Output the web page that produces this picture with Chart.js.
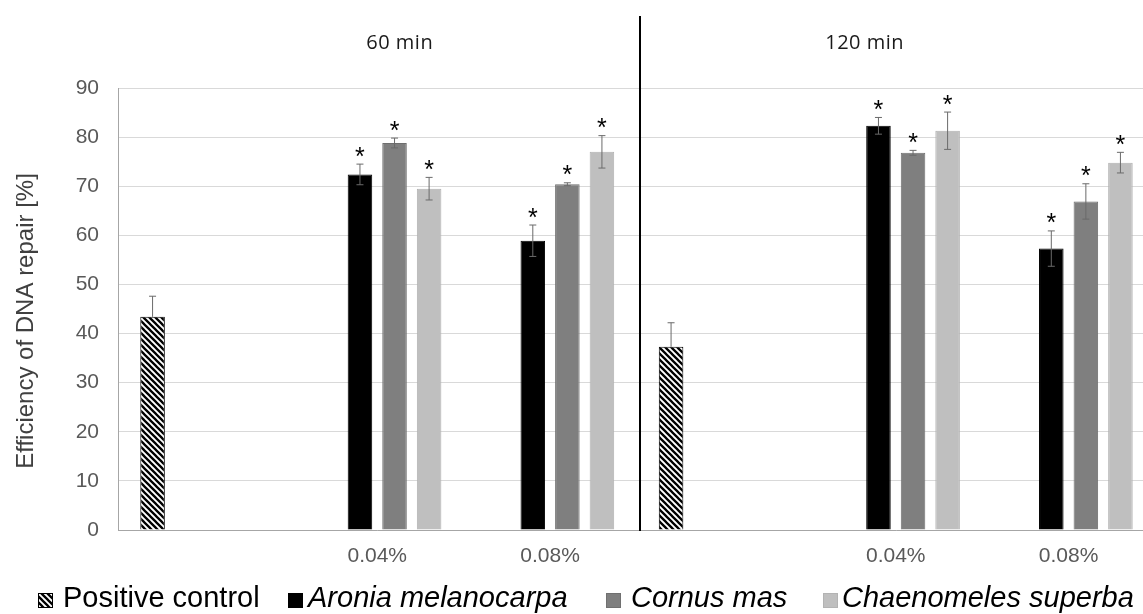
<!DOCTYPE html>
<html>
<head>
<meta charset="utf-8">
<script src="https://cdn.jsdelivr.net/npm/chart.js@4"></script>
<style>
  html, body { margin: 0; padding: 0; background: #ffffff; overflow: hidden; }
  #wrap { width: 1143px; height: 614px; overflow: hidden; position: relative; }
  #wrap canvas { position: absolute; left: 0; top: 0; }
</style>
</head>
<body>
<div id="wrap"><canvas id="c" width="1160" height="614"></canvas></div>
<script>
// ---- data ----
const categories = ['', '0.04%', '0.08%', '', '0.04%', '0.08%'];
const timeLabels = ['60 min', '120 min'];
const yTicks = [0, 10, 20, 30, 40, 50, 60, 70, 80, 90];
const seriesNames = ['Positive control', 'Aronia melanocarpa', 'Cornus mas', 'Chaenomeles superba'];

const positiveControl    = [43.4, null, null, 37.3, null, null];
const positiveControlErr = [4.2, null, null, 4.9, null, null];
const aronia             = [null, 72.4, 58.9, null, 82.3, 57.3];
const aroniaErr          = [null, 2.1, 3.2, null, 1.7, 3.6];
const cornus             = [null, 78.8, 70.4, null, 76.8, 66.9];
const cornusErr          = [null, 1.0, 0.3, null, 0.5, 3.6];
const chaenomeles        = [null, 69.5, 77.0, null, 81.3, 74.8];
const chaenomelesErr     = [null, 2.3, 3.3, null, 3.8, 2.1];
const significant        = [false, true, true, true]; // asterisk per series

// ---- hatch pattern ----
function makeHatch() {
  const t = document.createElement('canvas');
  t.width = 6; t.height = 6;
  const g = t.getContext('2d');
  g.fillStyle = '#ffffff'; g.fillRect(0, 0, 6, 6);
  g.strokeStyle = '#000000'; g.lineWidth = 2.3;
  g.beginPath();
  g.moveTo(-1, -1); g.lineTo(7, 7);
  g.moveTo(-1, 5); g.lineTo(1, 7);
  g.moveTo(5, -1); g.lineTo(7, 1);
  g.stroke();
  return t;
}
const ctx = document.getElementById('c').getContext('2d');
const hatch = ctx.createPattern(makeHatch(), 'repeat');

const errs = [positiveControlErr, aroniaErr, cornusErr, chaenomelesErr];
const FONT = '"Liberation Sans", Arial, sans-serif';

const extras = {
  id: 'extras',
  afterDatasetsDraw(chart) {
    const c = chart.ctx;
    const y = chart.scales.y;
    c.save();
    chart.data.datasets.forEach((ds, di) => {
      const meta = chart.getDatasetMeta(di);
      meta.data.forEach((bar, i) => {
        const v = ds.data[i];
        if (v == null) return;
        const e = errs[di][i];
        const yt = y.getPixelForValue(v + e);
        const yb = y.getPixelForValue(di === 0 ? v : v - e);
        c.strokeStyle = '#6a6a6a';
        c.lineWidth = 1;
        c.beginPath();
        c.moveTo(bar.x, yt); c.lineTo(bar.x, yb);
        c.moveTo(bar.x - 3.5, yt); c.lineTo(bar.x + 3.5, yt);
        if (di !== 0) { c.moveTo(bar.x - 3.5, yb); c.lineTo(bar.x + 3.5, yb); }
        c.stroke();
        if (significant[di]) {
          c.fillStyle = '#000000';
          c.font = '25px ' + FONT;
          c.textAlign = 'center';
          c.textBaseline = 'alphabetic';
          c.fillText('*', bar.x, yt + 0.5);
        }
      });
    });
    c.restore();
  },
  afterDraw(chart) {
    const c = chart.ctx;
    const x = chart.scales.x;
    const area = chart.chartArea;
    c.save();
    // divider
    c.strokeStyle = '#000000';
    c.lineWidth = 2;
    const xd = Math.round(x.getPixelForValue(2.52));
    c.beginPath(); c.moveTo(xd, 16); c.lineTo(xd, area.bottom + 1); c.stroke();
    // time labels
    c.fillStyle = '#1a1a1a';
    c.font = '20px "Open Sans", sans-serif';
    try { c.letterSpacing = '0.5px'; } catch (e) {}
    c.textAlign = 'center';
    c.textBaseline = 'middle';
    c.fillText(timeLabels[0], x.getPixelForValue(1.13), 43);
    c.fillText(timeLabels[1], x.getPixelForValue(3.82), 43);
    try { c.letterSpacing = '0px'; } catch (e) {}
    // y title
    c.save();
    c.translate(33, 321);
    c.rotate(-Math.PI / 2);
    c.fillStyle = '#404040';
    c.font = '24px ' + FONT;
    c.textAlign = 'center';
    c.textBaseline = 'alphabetic';
    c.fillText('Efficiency of DNA repair [%]', 0, 0);
    c.restore();
    // legend
    const items = [
      { box: 38, tx: 63, fill: hatch, stroke: '#000000', italic: false },
      { box: 288, tx: 308, fill: '#000000', stroke: '#000000', italic: true },
      { box: 606, tx: 631, fill: '#7f7f7f', stroke: '#707070', italic: true },
      { box: 823, tx: 842, fill: '#bfbfbf', stroke: '#b3b3b3', italic: true }
    ];
    c.textAlign = 'left';
    c.textBaseline = 'alphabetic';
    items.forEach((it, k) => {
      c.fillStyle = it.fill;
      c.fillRect(it.box, 593, 15, 15);
      c.strokeStyle = it.stroke; c.lineWidth = 1;
      c.strokeRect(it.box + 0.5, 593.5, 14, 14);
      c.fillStyle = '#000000';
      c.font = (it.italic ? 'italic ' : '') + '29px ' + FONT;
      c.fillText(seriesNames[k], it.tx, 607);
    });
    c.restore();
  }
};

new Chart(ctx, {
  type: 'bar',
  data: {
    labels: categories,
    datasets: [
      { label: seriesNames[0], data: positiveControl, backgroundColor: hatch, borderColor: '#000000', borderWidth: 1 },
      { label: seriesNames[1], data: aronia, backgroundColor: '#000000', borderColor: '#000000', borderWidth: 1 },
      { label: seriesNames[2], data: cornus, backgroundColor: '#7f7f7f', borderColor: '#6e6e6e', borderWidth: 1 },
      { label: seriesNames[3], data: chaenomeles, backgroundColor: '#bfbfbf', borderColor: '#b0b0b0', borderWidth: 1 }
    ]
  },
  options: {
    responsive: false,
    animation: false,
    devicePixelRatio: 1,
    layout: { padding: { top: 88, right: 5, left: 0, bottom: 0 } },
    datasets: { bar: { categoryPercentage: 0.8, barPercentage: 0.71 } },
    plugins: { legend: { display: false }, tooltip: { enabled: false } },
    scales: {
      x: {
        grid: { display: false, drawTicks: false },
        border: { display: true, color: '#a6a6a6', width: 1 },
        ticks: { color: '#595959', font: { family: FONT, size: 21 }, padding: 14, maxRotation: 0, autoSkip: false },
        afterFit(s) { s.height = 84; }
      },
      y: {
        min: 0, max: 90,
        afterBuildTicks(s) { s.ticks = yTicks.map(v => ({ value: v })); },
        grid: { color: '#d9d9d9', lineWidth: 1, drawTicks: false },
        border: { display: true, color: '#a6a6a6', width: 1 },
        ticks: { color: '#595959', font: { family: FONT, size: 21 }, padding: 19 },
        afterFit(s) { s.width = 118; }
      }
    }
  },
  plugins: [extras]
});
</script>
</body>
</html>
